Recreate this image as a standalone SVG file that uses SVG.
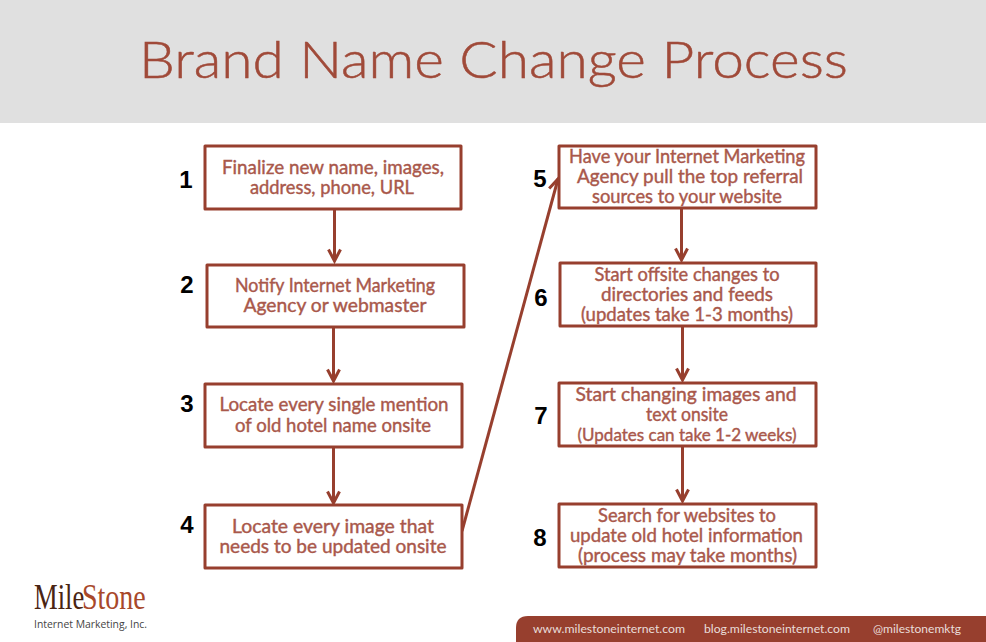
<svg xmlns="http://www.w3.org/2000/svg" width="986" height="642" viewBox="0 0 986 642">
<style>
.box{fill:#fff;stroke:#973f2e;stroke-width:3;stroke-linejoin:round}
.t{font-family:"Lato","Liberation Sans",sans-serif;font-size:18.5px;fill:#a9584b;text-anchor:middle;stroke:#a9584b;stroke-width:.4}
.n{font-family:"Liberation Sans",Arial,sans-serif;font-size:24px;font-weight:bold;fill:#000;text-anchor:middle}
.c{fill:none;stroke:#973f2e;stroke-width:3}
.f{font-family:"Lato","Liberation Sans",sans-serif;font-size:11.5px;fill:#e9ddd9}
.l{font-family:"Liberation Serif",serif;font-size:35px}
</style>
<defs>
<marker id="a" markerUnits="userSpaceOnUse" markerWidth="16" markerHeight="16" refX="13" refY="7" orient="auto" overflow="visible"><path d="M1.500 1 L13 7 L1.500 13" fill="none" stroke="#973f2e" stroke-width="3"/></marker>
</defs>
<rect id="header" x="0" y="0" width="986" height="123" fill="#e0e0e0"/>
<text id="title" x="493.500" y="78" font-family="Lato,'Liberation Sans',sans-serif" font-size="52" font-weight="300" fill="#a04a39" stroke="#a04a39" stroke-width=".5" text-anchor="middle" textLength="709" lengthAdjust="spacingAndGlyphs">Brand Name Change Process</text>
<g id="connectors">
<path class="c" d="M334.500 210V261" marker-end="url(#a)"/>
<path class="c" d="M333.500 327V381" marker-end="url(#a)"/>
<path class="c" d="M333.500 447V503" marker-end="url(#a)"/>
<path class="c" d="M462 531L558 179" marker-end="url(#a)"/>
<path class="c" d="M681.500 209V260" marker-end="url(#a)"/>
<path class="c" d="M682.500 327V380" marker-end="url(#a)"/>
<path class="c" d="M682.500 446V501" marker-end="url(#a)"/>
</g>
<g id="node1"><rect class="box" x="205" y="146" width="256" height="63"/><text class="t" x="333" y="174" textLength="222" lengthAdjust="spacingAndGlyphs">Finalize new name, images,</text><text class="t" x="332" y="194" textLength="164" lengthAdjust="spacingAndGlyphs">address, phone, URL</text><text class="n" x="186" y="188">1</text></g>
<g id="node2"><rect class="box" x="207" y="265" width="257" height="62"/><text class="t" x="335" y="292" textLength="200" lengthAdjust="spacingAndGlyphs">Notify Internet Marketing</text><text class="t" x="335" y="312" textLength="183" lengthAdjust="spacingAndGlyphs">Agency or webmaster</text><text class="n" x="187" y="293">2</text></g>
<g id="node3"><rect class="box" x="205" y="384" width="257" height="63"/><text class="t" x="334" y="411" textLength="229" lengthAdjust="spacingAndGlyphs">Locate every single mention</text><text class="t" x="333" y="432" textLength="196" lengthAdjust="spacingAndGlyphs">of old hotel name onsite</text><text class="n" x="187" y="412">3</text></g>
<g id="node4"><rect class="box" x="205" y="505" width="257" height="63"/><text class="t" x="333" y="533" textLength="202" lengthAdjust="spacingAndGlyphs">Locate every image that</text><text class="t" x="333" y="553" textLength="227" lengthAdjust="spacingAndGlyphs">needs to be updated onsite</text><text class="n" x="187" y="533">4</text></g>
<g id="node5"><rect class="box" x="559" y="146" width="257" height="62"/><text class="t" x="687" y="163" textLength="236" lengthAdjust="spacingAndGlyphs">Have your Internet Marketing</text><text class="t" x="690" y="183" textLength="226" lengthAdjust="spacingAndGlyphs">Agency pull the top referral</text><text class="t" x="687" y="203" textLength="190" lengthAdjust="spacingAndGlyphs">sources to your website</text><text class="n" x="540" y="187">5</text></g>
<g id="node6"><rect class="box" x="560" y="263" width="256" height="63"/><text class="t" x="687" y="281" textLength="185" lengthAdjust="spacingAndGlyphs">Start offsite changes to</text><text class="t" x="687" y="301" textLength="172" lengthAdjust="spacingAndGlyphs">directories and feeds</text><text class="t" x="687" y="321" textLength="212" lengthAdjust="spacingAndGlyphs">(updates take 1-3 months)</text><text class="n" x="541" y="306">6</text></g>
<g id="node7"><rect class="box" x="559" y="383" width="257" height="63"/><text class="t" x="686" y="401" textLength="221" lengthAdjust="spacingAndGlyphs">Start changing images and</text><text class="t" x="687" y="421" textLength="82" lengthAdjust="spacingAndGlyphs">text onsite</text><text class="t" x="687" y="441" style="font-size:17px" textLength="219" lengthAdjust="spacingAndGlyphs">(Updates can take 1-2 weeks)</text><text class="n" x="541" y="424">7</text></g>
<g id="node8"><rect class="box" x="559" y="504" width="257" height="63"/><text class="t" x="687" y="522" textLength="178" lengthAdjust="spacingAndGlyphs">Search for websites to</text><text class="t" x="686.500" y="542" textLength="233" lengthAdjust="spacingAndGlyphs">update old hotel information</text><text class="t" x="687.500" y="562" textLength="219" lengthAdjust="spacingAndGlyphs">(process may take months)</text><text class="n" x="540" y="546">8</text></g>
<g id="logo"><text class="l" transform="translate(34 609) scale(.76 1)" fill="#4a2412">Mile</text><text class="l" transform="translate(82 609) scale(.8 1)" fill="#a8482a">Stone</text><text x="34" y="628" font-family="'Open Sans','Liberation Sans',sans-serif" font-size="10.500" fill="#444" textLength="113" lengthAdjust="spacingAndGlyphs">Internet Marketing, Inc.</text></g>
<g id="footer"><path d="M516 642V628Q516 616 528 616H986V642Z" fill="#973f2e"/><text class="f" x="533" y="633" textLength="152" lengthAdjust="spacingAndGlyphs">www.milestoneinternet.com</text><text class="f" x="704" y="633" textLength="146" lengthAdjust="spacingAndGlyphs">blog.milestoneinternet.com</text><text class="f" x="873" y="633" textLength="88" lengthAdjust="spacingAndGlyphs">@milestonemktg</text></g>
</svg>
